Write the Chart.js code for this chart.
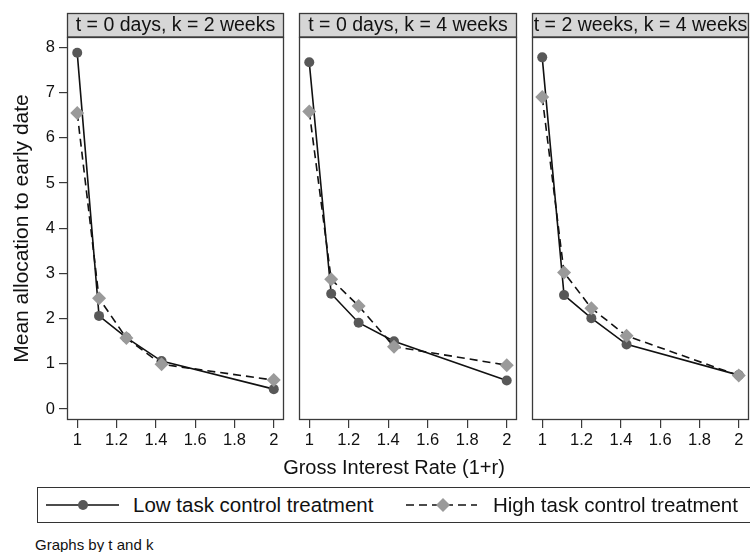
<!DOCTYPE html>
<html>
<head>
<meta charset="utf-8">
<title>Mean allocation by interest rate</title>
<script src="https://cdn.jsdelivr.net/npm/chart.js@4"></script>
<style>
  body {
    margin: 0;
    width: 750px;
    height: 552px;
    overflow: hidden;
    position: relative;
    background: #fff;
    font-family: "Liberation Sans", Arial, sans-serif;
    color: #111;
  }
  canvas { position: absolute; top: 0; }
  #xtitle {
    position: absolute; top: 456px; left: 274px; width: 240px;
    text-align: center; font-size: 20px; white-space: nowrap;
  }
  #legend {
    position: absolute; left: 37px; top: 487px; width: 740px; height: 36px;
    border: 1px solid #333; box-sizing: border-box;
  }
  #legend svg { position: absolute; top: 0; }
  #legend span { position: absolute; top: 5px; font-size: 20.5px; white-space: nowrap; }
  #note { position: absolute; left: 35px; top: 536px; font-size: 15px; }
</style>
</head>
<body>
<canvas id="p0" width="290" height="460" style="left:0px"></canvas>
<canvas id="p1" width="230" height="460" style="left:290px"></canvas>
<canvas id="p2" width="226" height="460" style="left:524px"></canvas>
<div id="xtitle">Gross Interest Rate (1+r)</div>
<div id="legend">
  <svg width="90" height="34" style="left:7px">
    <line x1="1" y1="17" x2="74" y2="17" stroke="#111" stroke-width="1.5"/>
    <circle cx="38" cy="17" r="5" fill="#585858"/>
  </svg>
  <span style="left:95px">Low task control treatment</span>
  <svg width="90" height="34" style="left:367px">
    <line x1="1" y1="17" x2="72" y2="17" stroke="#111" stroke-width="1.5" stroke-dasharray="8 5"/>
    <polygon points="38,10 45,17 38,24 31,17" fill="#9a9a9a"/>
  </svg>
  <span style="left:455px">High task control treatment</span>
</div>
<div id="note">Graphs by t and k</div>
<script>
// gross interest rates offered (1 + r)
const rates = [1, 1.111, 1.25, 1.429, 2];

const panelTitles = [
  "t = 0 days, k = 2 weeks",
  "t = 0 days, k = 4 weeks",
  "t = 2 weeks, k = 4 weeks"
];

// mean tokens allocated to the early date, one row per panel
const lowControl = [
  [7.88, 2.06, 1.58, 1.06, 0.44],
  [7.67, 2.55, 1.91, 1.50, 0.63],
  [7.78, 2.52, 2.01, 1.43, 0.75]
];
const highControl = [
  [6.55, 2.45, 1.57, 0.99, 0.64],
  [6.58, 2.87, 2.28, 1.38, 0.97],
  [6.90, 3.02, 2.23, 1.62, 0.74]
];

const xTicks = [1, 1.2, 1.4, 1.6, 1.8, 2];
const yTicks = [0, 1, 2, 3, 4, 5, 6, 7, 8];

const FONT = "'Liberation Sans', Arial, sans-serif";

// left/right padding of each canvas so the plot regions line up
const panelPad = [
  { left: 0, right: 6 },
  { left: 9, right: 3 },
  { left: 8, right: 1 }
];

// frame around the plot region plus the gray title strip above it
const framePlugin = {
  id: "frame",
  beforeDatasetsDraw(chart, args, opts) {
    const { ctx, chartArea: a } = chart;
    ctx.save();
    ctx.fillStyle = "#d6d6d6";
    ctx.fillRect(a.left, 13, a.right - a.left, 24);
    ctx.strokeStyle = "#3a3a3a";
    ctx.lineWidth = 1.3;
    ctx.strokeRect(a.left + 0.5, 13.5, a.right - a.left - 1, 23.5);
    ctx.strokeRect(a.left + 0.5, a.top + 0.5, a.right - a.left - 1, a.bottom - a.top - 1);
    ctx.fillStyle = "#111";
    ctx.font = "19.5px " + FONT;
    ctx.textAlign = "center";
    ctx.textBaseline = "middle";
    ctx.fillText(opts.title, (a.left + a.right) / 2, 25.5);
    ctx.restore();
  }
};

function makePanel(i) {
  const first = i === 0;
  const toPoints = ys => ys.map((y, j) => ({ x: rates[j], y: y }));
  return new Chart(document.getElementById("p" + i), {
    type: "scatter",
    data: {
      datasets: [
        {
          label: "Low task control treatment",
          data: toPoints(lowControl[i]),
          showLine: true,
          borderColor: "#111",
          borderWidth: 1.6,
          pointStyle: "circle",
          pointRadius: 5,
          pointBackgroundColor: "#585858",
          pointBorderWidth: 0,
          order: 1
        },
        {
          label: "High task control treatment",
          data: toPoints(highControl[i]),
          showLine: true,
          borderColor: "#111",
          borderWidth: 1.6,
          borderDash: [8, 5],
          pointStyle: "rectRot",
          pointRadius: 7,
          pointBackgroundColor: "#9a9a9a",
          pointBorderWidth: 0,
          order: 0
        }
      ]
    },
    options: {
      responsive: false,
      animation: false,
      events: [],
      layout: {
        autoPadding: false,
        padding: { top: 37, bottom: 0, left: panelPad[i].left, right: panelPad[i].right }
      },
      scales: {
        x: {
          type: "linear",
          min: 0.948,
          max: 2.052,
          afterBuildTicks: s => { s.ticks = xTicks.map(v => ({ value: v })); },
          afterFit: s => { s.height = 40; },
          grid: { drawOnChartArea: false, drawTicks: true, tickLength: 8, color: "#3a3a3a", lineWidth: 1.2 },
          border: { display: false },
          ticks: {
            color: "#111",
            padding: 3,
            maxRotation: 0,
            font: { family: FONT, size: 16.5 },
            callback: v => String(v)
          }
        },
        y: {
          display: first,
          min: -0.243,
          max: 8.23,
          afterBuildTicks: s => { s.ticks = yTicks.map(v => ({ value: v })); },
          afterFit: s => { if (first) s.width = 67; },
          grid: { drawOnChartArea: false, drawTicks: true, tickLength: 8, color: "#3a3a3a", lineWidth: 1.2 },
          border: { display: false },
          title: {
            display: true,
            text: "Mean allocation to early date",
            color: "#111",
            padding: { top: 10, bottom: 0 },
            font: { family: FONT, size: 21 }
          },
          ticks: {
            color: "#111",
            padding: 4,
            font: { family: FONT, size: 16.5 }
          }
        }
      },
      plugins: {
        legend: { display: false },
        tooltip: { enabled: false },
        frame: { title: panelTitles[i] }
      }
    },
    plugins: [framePlugin]
  });
}

panelTitles.forEach((t, i) => makePanel(i));
</script>
</body>
</html>
